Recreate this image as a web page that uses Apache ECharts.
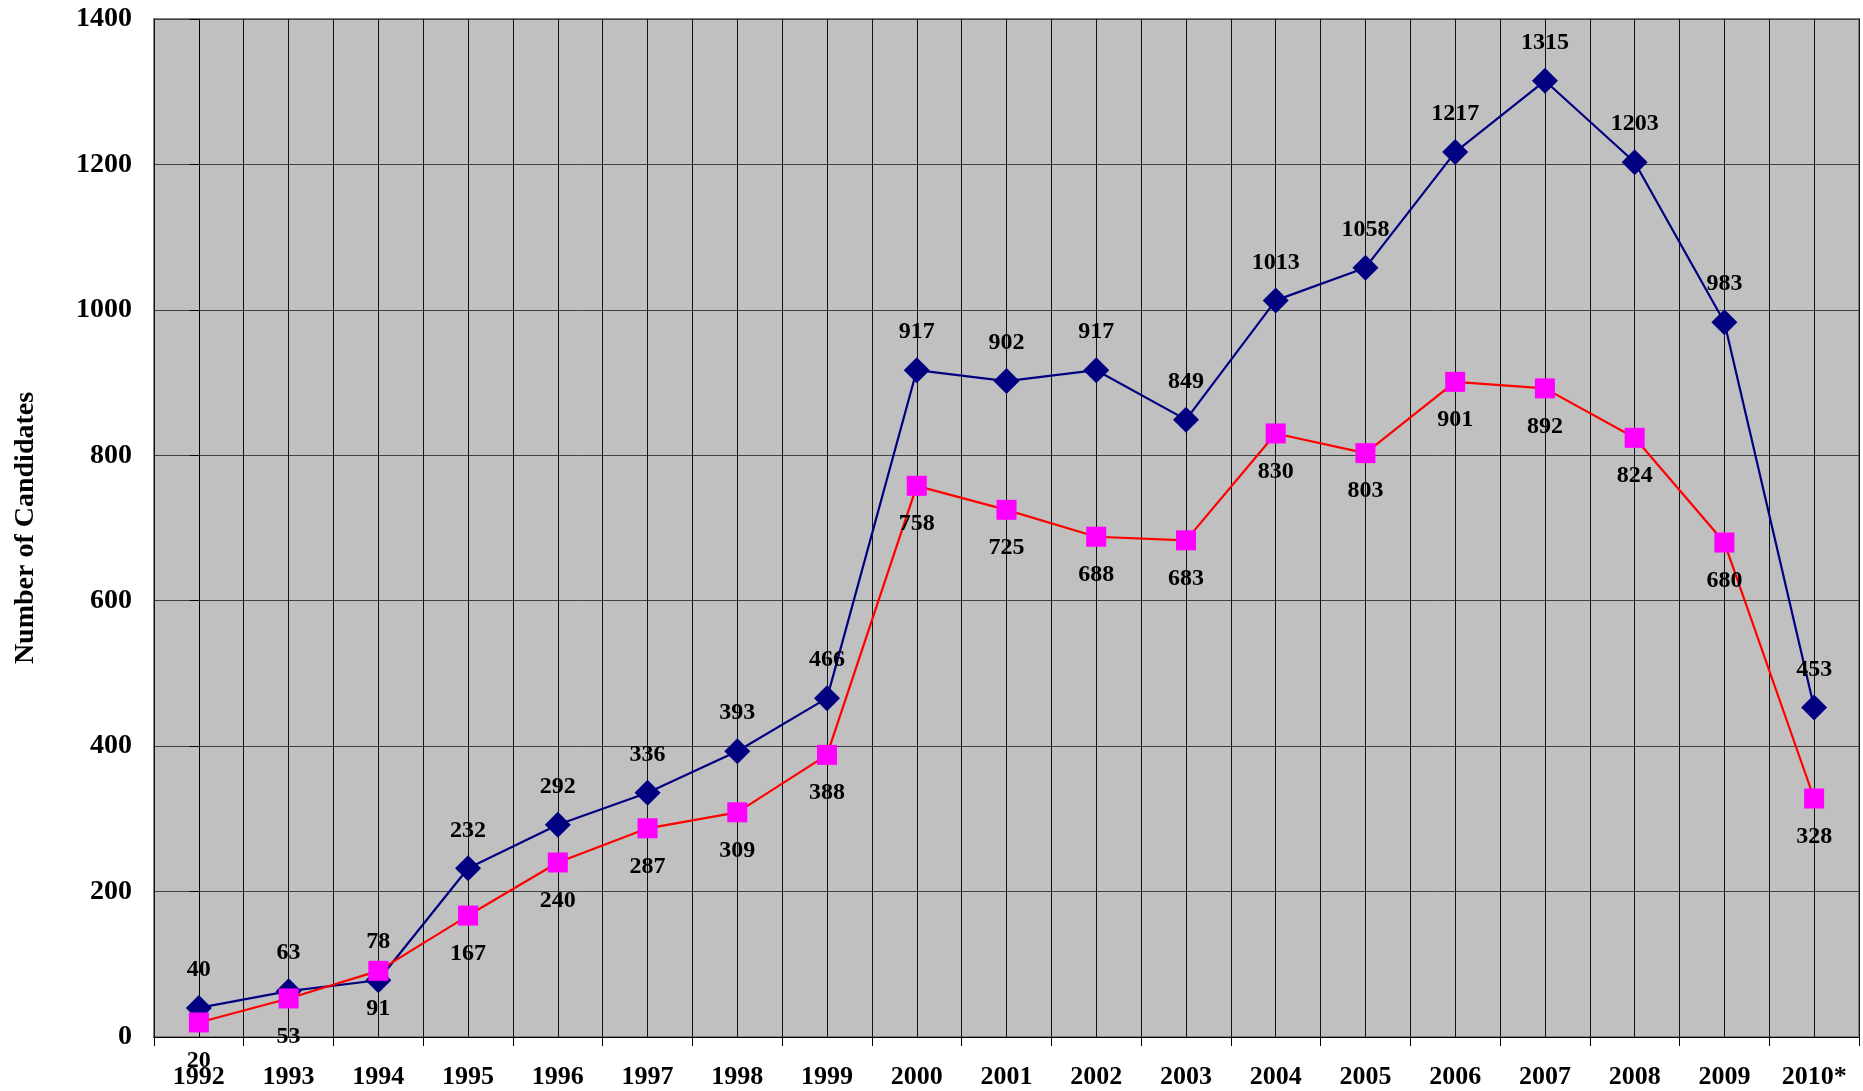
<!DOCTYPE html>
<html><head><meta charset="utf-8">
<script src="https://cdn.jsdelivr.net/npm/echarts@6/dist/echarts.min.js"></script>
<style>html,body{margin:0;padding:0;background:#fff}#c{width:1863px;height:1091px}</style>
</head><body><div id="c"></div>
<script>
var years = ['1992','1993','1994','1995','1996','1997','1998','1999','2000','2001','2002','2003','2004','2005','2006','2007','2008','2009','2010*'];
var seriesA = [40,63,78,232,292,336,393,466,917,902,917,849,1013,1058,1217,1315,1203,983,453];
var seriesB = [20,53,91,167,240,287,309,388,758,725,688,683,830,803,901,892,824,680,328];
var yTicks = [0,200,400,600,800,1000,1200,1400];

var FONT = '"Liberation Serif","Times New Roman",serif';
var chart = echarts.init(document.getElementById('c'));
chart.setOption({
  backgroundColor:'#ffffff',
  animation:false,
  grid:{left:154,right:4,top:19,bottom:54,show:true,backgroundColor:'#c0c0c0',borderColor:'#808080',borderWidth:2},
  xAxis:[{
    type:'category', data:years, boundaryGap:true,
    axisLine:{show:true,lineStyle:{color:'#000',width:1}},
    axisTick:{show:true,length:9,alignWithLabel:false,lineStyle:{color:'#000'}},
    axisLabel:{color:'#000',fontFamily:FONT,fontWeight:'bold',fontSize:26,margin:27,interval:0},
    splitLine:{show:false}
  },{
    type:'value', min:-0.5, max:years.length-0.5, interval:0.5,
    show:true, position:'bottom',
    axisLine:{show:false}, axisTick:{show:false}, axisLabel:{show:false},
    splitLine:{show:true,lineStyle:{color:'#111111',width:1}}
  }],
  yAxis:{
    type:'value', min:yTicks[0], max:yTicks[yTicks.length-1], interval:200,
    name:'Number of Candidates', nameLocation:'middle', nameGap:114,
    nameTextStyle:{color:'#000',fontFamily:FONT,fontWeight:'bold',fontSize:28},
    axisLine:{show:true,lineStyle:{color:'#000',width:1}},
    axisTick:{show:true,length:9,lineStyle:{color:'#000'}},
    axisLabel:{color:'#000',fontFamily:FONT,fontWeight:'bold',fontSize:28,margin:22,formatter:function(v){return String(v);}},
    splitLine:{show:true,lineStyle:{color:'#404040',width:1}}
  },
  series:[{
    name:'A', type:'line', data:seriesA, xAxisIndex:0,
    symbol:'diamond', symbolSize:26,
    itemStyle:{color:'#000080'},
    lineStyle:{color:'#000080',width:2.2},
    label:{show:true,position:'top',distance:13,color:'#000',fontFamily:FONT,fontWeight:'bold',fontSize:24},
    z:3
  },{
    name:'B', type:'line', data:seriesB, xAxisIndex:0,
    symbol:'rect', symbolSize:20,
    itemStyle:{color:'#ff00ff'},
    lineStyle:{color:'#ff0000',width:2.2},
    label:{show:true,position:'bottom',distance:16,color:'#000',fontFamily:FONT,fontWeight:'bold',fontSize:24},
    z:4
  }]
});
</script></body></html>
